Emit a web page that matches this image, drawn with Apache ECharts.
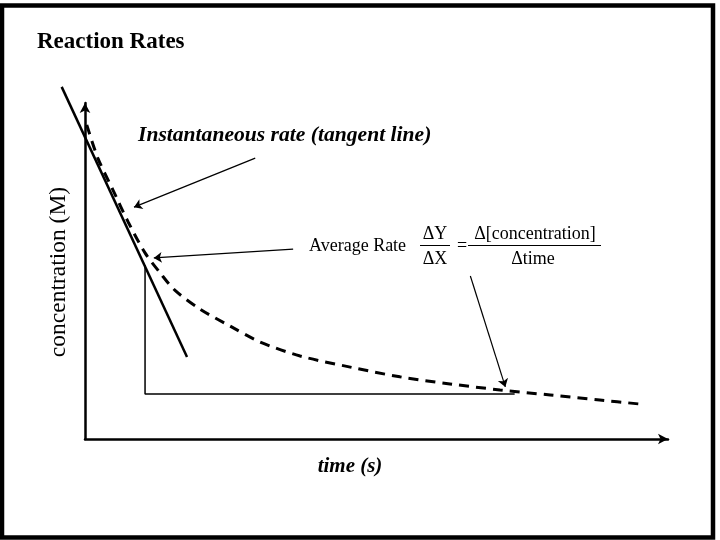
<!DOCTYPE html>
<html><head><meta charset="utf-8">
<script src="https://cdn.jsdelivr.net/npm/echarts@6/dist/echarts.min.js"></script>
<style>html,body{margin:0;padding:0;background:#fff}#c{width:720px;height:540px}</style>
</head><body><div id="c"></div>
<script>
// Concentration curve (dashed)
const curveTime = [0.3, 2.2, 4.8, 7.4, 10.3, 12.9, 15.4, 19.7, 24.9, 30.0, 36.9, 45.5, 54.0, 62.6, 71.2, 79.8, 88.3, 95.2];
const curveConc = [93.5, 83.6, 74.1, 64.6, 55.4, 49.4, 44.3, 38.7, 33.6, 28.9, 24.7, 21.4, 18.5, 16.4, 14.6, 13.1, 11.6, 10.4];
// Tangent line (instantaneous rate)
const tangentTime = [-4.0, 17.5];
const tangentConc = [104.8, 24.4];
// Average-rate triangle
const triTime = [10.3, 10.3, 73.7];
const triConc = [51.8, 13.4, 13.4];
// Annotation arrows: [fromTime, fromConc, toTime, toConc]
const arrowInstant = [29.2, 83.6, 8.4, 69.0];
const arrowAverage = [35.7, 56.5, 11.8, 53.9];
const arrowEnd = [66.1, 48.5, 72.1, 15.5];
// Texts
const titleText = 'Reaction Rates';
const xName = 'time (s)';
const yName = 'concentration (M)';
const instantLabel = 'Instantaneous rate (tangent line)';
const averageLabel = 'Average Rate';
const fracLeftTop = 'ΔY', fracLeftBottom = 'ΔX';
const fracRightTop = 'Δ[concentration]', fracRightBottom = 'Δtime';

const SERIF = '"Liberation Serif","Times New Roman",serif';
const zip = (a, b) => a.map((v, i) => [v, b[i]]);
const arrowData = [arrowInstant, arrowAverage, arrowEnd].map(a => ({coords: [[a[0], a[1]], [a[2], a[3]]]}));

// visible axes box and an extended (hidden) data box sharing the same scale
const W = 720, H = 540;
const G = {left: 85, right: 52, top: 103, bottom: 101};
const xMin = 0, xMax = 100, yMin = 0, yMax = 100;
const xMinExt = -5, yMaxExt = 110;
const pxPerX = (W - G.left - G.right) / (xMax - xMin);
const pxPerY = (H - G.top - G.bottom) / (yMax - yMin);
const G2 = {left: G.left - (xMin - xMinExt) * pxPerX, right: G.right, top: G.top - (yMaxExt - yMax) * pxPerY, bottom: G.bottom};

const chart = echarts.init(document.getElementById('c'), null, {renderer: 'canvas'});
const hidden = {axisTick: {show: false}, axisLabel: {show: false}, splitLine: {show: false}};
const axisLineStyle = {show: true, onZero: false, symbol: ['none', 'arrow'], symbolSize: [8, 10],
  lineStyle: {color: '#000', width: 2.5}};
chart.setOption({
  animation: false,
  backgroundColor: '#fff',
  title: {
    text: titleText, left: 37, top: 31, padding: 0,
    textStyle: {fontFamily: SERIF, fontWeight: 'bold', fontSize: 23, color: '#000'}
  },
  grid: [
    Object.assign({outerBoundsMode: 'none', containLabel: false}, G),
    Object.assign({outerBoundsMode: 'none', containLabel: false}, G2)
  ],
  xAxis: [
    Object.assign({type: 'value', gridIndex: 0, min: xMin, max: xMax, axisLine: axisLineStyle}, hidden),
    Object.assign({type: 'value', gridIndex: 1, min: xMinExt, max: xMax, axisLine: {show: false}}, hidden)
  ],
  yAxis: [
    Object.assign({type: 'value', gridIndex: 0, min: yMin, max: yMax, axisLine: axisLineStyle}, hidden),
    Object.assign({type: 'value', gridIndex: 1, min: yMin, max: yMaxExt, axisLine: {show: false}}, hidden)
  ],
  series: [
    {type: 'line', xAxisIndex: 1, yAxisIndex: 1, data: zip(curveTime, curveConc), smooth: 0.3, symbol: 'none', clip: false,
      lineStyle: {color: '#000', width: 3, type: [10, 7]}},
    {type: 'line', xAxisIndex: 1, yAxisIndex: 1, data: zip(tangentTime, tangentConc), symbol: 'none', clip: false,
      lineStyle: {color: '#000', width: 2.5}},
    {type: 'line', xAxisIndex: 1, yAxisIndex: 1, data: zip(triTime, triConc), symbol: 'none', clip: false,
      lineStyle: {color: '#000', width: 1.5}},
    {type: 'lines', coordinateSystem: 'cartesian2d', xAxisIndex: 1, yAxisIndex: 1, data: arrowData,
      symbol: ['none', 'arrow'], symbolSize: 8,
      lineStyle: {color: '#000', width: 1.2, opacity: 1}}
  ],
  graphic: [
    {type: 'rect', shape: {x: 2, y: 5.5, width: 711, height: 532}, style: {fill: 'none', stroke: '#000', lineWidth: 4.5}, silent: true},
    {type: 'text', x: 138, y: 135, style: {text: instantLabel, font: 'italic bold 21.6px ' + SERIF, fill: '#000', textVerticalAlign: 'middle'}},
    {type: 'text', x: 350, y: 467, style: {text: xName, font: 'italic bold 21px ' + SERIF, fill: '#000', textAlign: 'center', textVerticalAlign: 'middle'}},
    {type: 'text', x: 59, y: 272, rotation: Math.PI / 2, style: {text: yName, font: '23.5px ' + SERIF, fill: '#000', textAlign: 'center', textVerticalAlign: 'middle'}},
    {type: 'text', x: 309, y: 246, style: {text: averageLabel, font: '18px ' + SERIF, fill: '#000', textVerticalAlign: 'middle'}},
    {type: 'text', x: 435, y: 234, style: {text: fracLeftTop, font: '18px ' + SERIF, fill: '#000', textAlign: 'center', textVerticalAlign: 'middle'}},
    {type: 'text', x: 435, y: 259, style: {text: fracLeftBottom, font: '18px ' + SERIF, fill: '#000', textAlign: 'center', textVerticalAlign: 'middle'}},
    {type: 'line', shape: {x1: 420, y1: 245.5, x2: 450, y2: 245.5}, style: {stroke: '#000', lineWidth: 1}},
    {type: 'text', x: 462, y: 246, style: {text: '=', font: '18px ' + SERIF, fill: '#000', textAlign: 'center', textVerticalAlign: 'middle'}},
    {type: 'text', x: 535, y: 234, style: {text: fracRightTop, font: '18px ' + SERIF, fill: '#000', textAlign: 'center', textVerticalAlign: 'middle'}},
    {type: 'text', x: 533, y: 259, style: {text: fracRightBottom, font: '18px ' + SERIF, fill: '#000', textAlign: 'center', textVerticalAlign: 'middle'}},
    {type: 'line', shape: {x1: 468, y1: 245.5, x2: 601, y2: 245.5}, style: {stroke: '#000', lineWidth: 1}}
  ]
});
</script></body></html>
